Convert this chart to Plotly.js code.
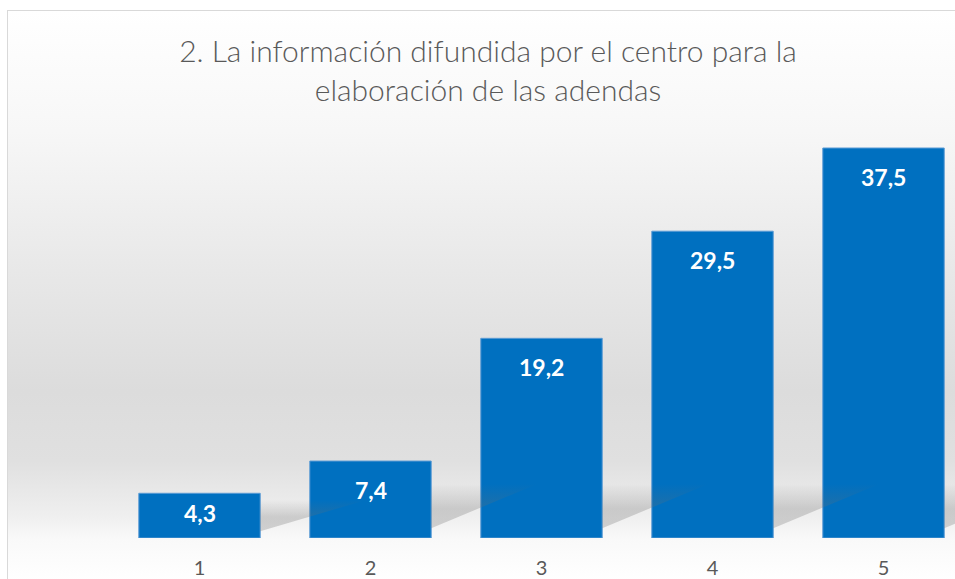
<!DOCTYPE html>
<html>
<head>
<meta charset="utf-8">
<script src="https://cdn.plot.ly/plotly-3.0.1.min.js"></script>
<style>
  html, body { margin: 0; padding: 0; background: #ffffff; overflow: hidden; }
  #frame {
    position: absolute; left: 7px; top: 10px; width: 970px; height: 600px;
    border: 1px solid #d9d9d9; box-sizing: border-box;
    background: linear-gradient(to bottom,
      #ffffff 0px, #f7f7f7 120px, #e8e8e8 260px, #dcdcdc 380px,
      #e0e0e0 450px, #efefef 505px, #f9f9f9 528px, #ffffff 570px);
  }
  #chart { position: absolute; left: 0; top: 0; width: 955px; height: 579px; }
</style>
</head>
<body>
<div id="frame"></div>
<div id="chart"></div>
<script>
const categories = ["1", "2", "3", "4", "5"];
const values = [4.3, 7.4, 19.2, 29.5, 37.5];
const valueLabels = ["4,3", "7,4", "19,2", "29,5", "37,5"];
const chartTitle = "2. La información difundida por el centro para la<br>elaboración de las adendas";

const FONT = "Lato, 'Open Sans', sans-serif";
const Y_MAX = 40;
const PLOT_H = 416;
const BAR_W = 0.71;

const xs = categories.map(Number);

// soft perspective shadows to the right of each bar (decoration, derived from the data)
const shadowTraces = xs.map((x, i) => {
  const xr = x + BAR_W / 2;
  const top = Math.min(values[i] * 0.85, 5.2);
  const base = top * 0.18;
  return {
    type: "scatter", mode: "lines",
    x: [xr, xr, xr + 0.62, xr],
    y: [base, top, top, base],
    fill: "toself",
    line: { width: 0, color: "rgba(0,0,0,0)" },
    fillgradient: {
      type: "vertical",
      start: top, stop: top * 0.55,
      colorscale: [[0, "rgba(110,110,110,0)"], [1, "rgba(110,110,110,0.28)"]]
    },
    hoverinfo: "none", showlegend: false
  };
});

const barTrace = {
  type: "bar",
  x: xs,
  y: values,
  width: BAR_W,
  marker: { color: "#0070c0", line: { color: "#5b9bd5", width: 1 } },
  hoverinfo: "none"
};

// value labels: placed ~29 px below the bar top, or centred when the bar is short
const annotations = xs.map((x, i) => {
  const barPx = values[i] / Y_MAX * PLOT_H;
  const short = barPx < 60;
  return {
    x: x, y: short ? values[i] / 2 : values[i],
    xref: "x", yref: "y",
    yanchor: "middle", yshift: short ? 3 : -29,
    text: "<b>" + valueLabels[i] + "</b>",
    showarrow: false,
    font: { family: FONT, size: 23, color: "#ffffff" }
  };
});

const layout = {
  width: 955,
  height: 579,
  paper_bgcolor: "rgba(0,0,0,0)",
  plot_bgcolor: "rgba(0,0,0,0)",
  margin: { l: 114, r: 0, t: 122, b: 41 },
  showlegend: false,
  annotations: annotations,
  title: {
    text: chartTitle,
    font: { family: FONT, size: 30, color: "#595959", weight: 300 },
    x: 0.511, xref: "container", xanchor: "center",
    y: 0.893, yref: "container", yanchor: "top"
  },
  xaxis: {
    type: "linear",
    range: [0.5, 5.418],
    tickvals: xs,
    ticktext: categories,
    showgrid: false, zeroline: false, showline: false,
    ticks: "",
    ticklabelstandoff: 16,
    tickfont: { family: FONT, size: 20, color: "#595959" },
    fixedrange: true
  },
  yaxis: {
    range: [0, Y_MAX],
    showgrid: false, zeroline: false, showline: false,
    showticklabels: false, ticks: "",
    fixedrange: true
  }
};

Plotly.newPlot("chart", shadowTraces.concat([barTrace]), layout, { displayModeBar: false, staticPlot: true });
</script>
</body>
</html>
